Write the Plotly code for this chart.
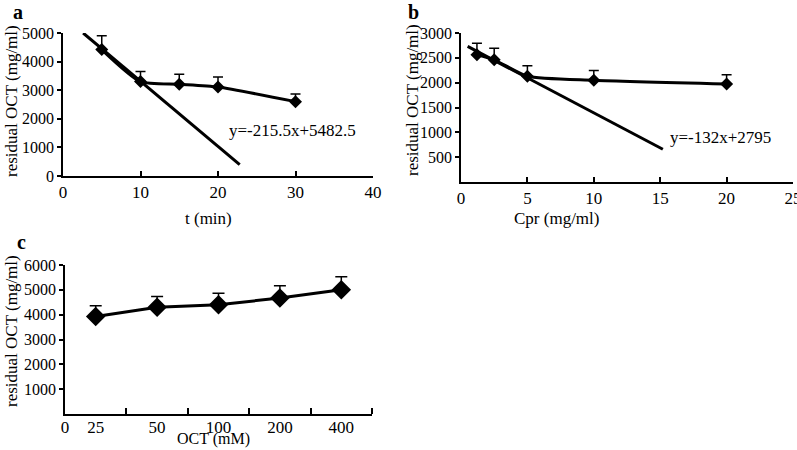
import plotly.graph_objects as go

# panel a: residual OCT vs time
t_min = [5, 10, 15, 20, 30]
oct_a = [4420, 3300, 3210, 3110, 2600]
err_a = [480, 350, 350, 350, 270]
fit_a_x = [2.6, 22.8]
fit_a_y = [5000, 400]

# panel b: residual OCT vs Cpr
cpr = [1.2, 2.5, 5, 10, 20]
oct_b = [2560, 2460, 2130, 2050, 1975]
err_b = [235, 235, 210, 195, 185]
fit_b_x = [0.5, 15.2]
fit_b_y = [2730, 660]

# panel c: residual OCT vs OCT concentration
oct_conc = ["25", "50", "100", "200", "400"]
oct_c = [3930, 4300, 4400, 4670, 5000]
err_c = [430, 430, 460, 490, 530]

FONT = "Liberation Serif"
W, H = 797, 450


def px(x):
    return x / W


def py(y):
    return 1 - y / H


fig = go.Figure()

line_style = dict(color="black", width=3, shape="spline", smoothing=0.6)

fig.add_trace(go.Scatter(
    x=t_min, y=oct_a, mode="lines+markers",
    line=line_style, marker=dict(symbol="diamond", size=10, color="black"),
    error_y=dict(type="data", array=err_a, arrayminus=[0] * 5, color="black", thickness=1.5, width=5),
    xaxis="x", yaxis="y", showlegend=False))
fig.add_trace(go.Scatter(
    x=fit_a_x, y=fit_a_y, mode="lines", line=dict(color="black", width=3),
    xaxis="x", yaxis="y", showlegend=False))

fig.add_trace(go.Scatter(
    x=cpr, y=oct_b, mode="lines+markers",
    line=line_style, marker=dict(symbol="diamond", size=10, color="black"),
    error_y=dict(type="data", array=err_b, arrayminus=[0] * 5, color="black", thickness=1.5, width=5),
    xaxis="x2", yaxis="y2", showlegend=False))
fig.add_trace(go.Scatter(
    x=fit_b_x, y=fit_b_y, mode="lines", line=dict(color="black", width=3),
    xaxis="x2", yaxis="y2", showlegend=False))

# category positions sit in the middle of each interval, like a spreadsheet chart
pos_c = [i + 0.5 for i in range(len(oct_conc))]
fig.add_trace(go.Scatter(
    x=pos_c, y=oct_c, mode="lines+markers",
    line=dict(color="black", width=3), marker=dict(symbol="diamond", size=15, color="black"),
    error_y=dict(type="data", array=err_c, arrayminus=[0] * 5, color="black", thickness=1.5, width=6),
    xaxis="x3", yaxis="y3", showlegend=False))

xcommon = dict(showline=True, linecolor="black", linewidth=1.5, showgrid=False, zeroline=False,
               ticks="inside", ticklen=5, tickcolor="black", tickwidth=1.5, ticklabeloverflow="allow",
               tickfont=dict(family=FONT, size=17, color="black"))
ycommon = dict(showline=True, linecolor="black", linewidth=1.5, showgrid=False, zeroline=False,
               ticks="outside", ticklen=4, tickcolor="black", tickwidth=1.5,
               tickfont=dict(family=FONT, size=16, color="black"))

fig.update_layout(
    width=W, height=H,
    margin=dict(l=0, r=0, t=0, b=0, autoexpand=False),
    plot_bgcolor="white", paper_bgcolor="white",
    xaxis=dict(xcommon, domain=[px(63), px(373)], range=[0, 40], tickvals=[0, 10, 20, 30, 40],
               anchor="y"),
    yaxis=dict(ycommon, domain=[py(176), py(33)], range=[0, 5000],
               tickvals=[0, 1000, 2000, 3000, 4000, 5000], anchor="x"),
    xaxis2=dict(xcommon, domain=[px(461), px(793)], range=[0, 25], tickvals=[0, 5, 10, 15, 20, 25],
                anchor="y2"),
    yaxis2=dict(ycommon, domain=[py(182), py(33)], range=[0, 3000],
                tickvals=[500, 1000, 1500, 2000, 2500, 3000], anchor="x2"),
    xaxis3=dict(xcommon, domain=[px(65), px(372)], range=[0, 5], ticks="", ticklabelstandoff=-3,
                tickvals=[0] + pos_c, ticktext=["0"] + oct_conc,
                minor=dict(tickmode="array", tickvals=[1, 2, 3, 4, 5], ticks="inside",
                           ticklen=6, tickcolor="black", tickwidth=1.5),
                anchor="y3"),
    yaxis3=dict(ycommon, domain=[py(414), py(265)], range=[0, 6000],
                tickvals=[1000, 2000, 3000, 4000, 5000, 6000], anchor="x3"),
)

ann_font = dict(family=FONT, size=17, color="black")
yt_font = dict(family=FONT, size=17, color="black")
lab_font = dict(family=FONT, size=20, color="black")


def note(text, x, y, font=ann_font, **kw):
    kw.setdefault("yanchor", "middle")
    return dict(text=text, x=px(x), y=py(y), xref="paper", yref="paper",
                xanchor="center", showarrow=False, font=font, **kw)


annotations = [
    dict(text="y=-215.5x+5482.5", x=21.2, y=1600, xref="x", yref="y", xanchor="left",
         yanchor="middle", showarrow=False, font=ann_font),
    dict(text="y=-132x+2795", x=15.6, y=900, xref="x2", yref="y2", xanchor="left",
         yanchor="middle", showarrow=False, font=ann_font),
    note("t (min)", 208, 218),
    note("Cpr (mg/ml)", 556, 218),
    note("OCT (mM)", 213, 450, dict(family=FONT, size=16, color="black"), yanchor="bottom"),
    note("residual OCT (mg/ml)", 11, 101, yt_font, textangle=-90),
    note("residual OCT (mg/ml)", 412, 100, yt_font, textangle=-90),
    note("residual OCT (mg/ml)", 11, 331, yt_font, textangle=-90),
    note("<b>a</b>", 18, 12, lab_font),
    note("<b>b</b>", 414, 12, lab_font),
    note("<b>c</b>", 21, 242, lab_font),
]
fig.update_layout(annotations=annotations)

# drop the default page margin so the figure sits at the window's top-left corner
fig.write_html("out.html", config={"displayModeBar": False},
               post_script="document.body.style.margin='0';")
